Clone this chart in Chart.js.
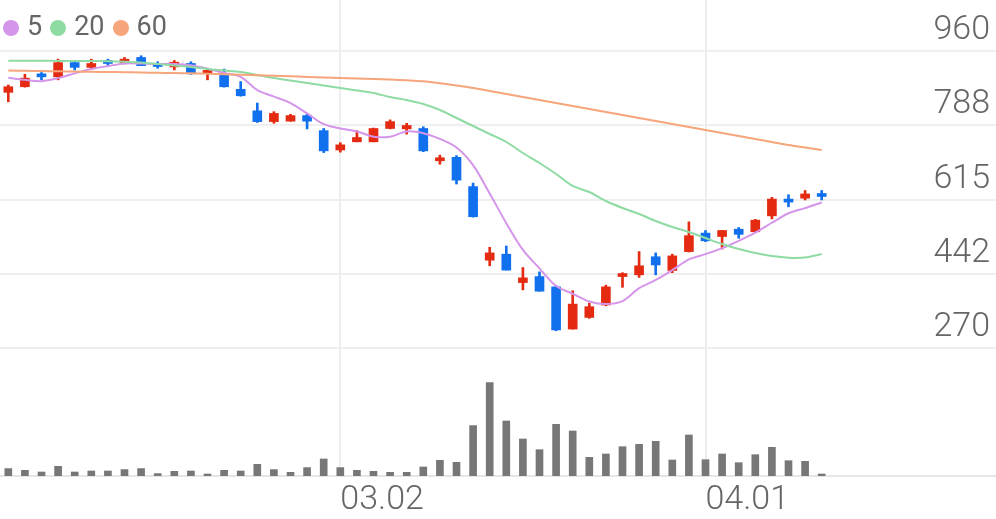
<!DOCTYPE html>
<html>
<head>
<meta charset="utf-8">
<script src="https://cdn.jsdelivr.net/npm/chart.js@4"></script>
<style>
  html, body { margin: 0; padding: 0; background: #fff; }
  #wrap { position: relative; width: 996px; height: 519px; }
  #legend { position: absolute; left: 3px; top: 10px; display: flex; align-items: center;
            font-family: Roboto, sans-serif; font-size: 27px; line-height: 32px; color: #666; }
  #legend .dot { display: inline-block; width: 16px; height: 16px; border-radius: 50%; margin: 3px 8px 0 0; }
  #legend .item { display: flex; align-items: center; margin-right: 8px; }
</style>
</head>
<body>
<div id="wrap">
  <canvas id="grafica"></canvas>
  <div id="legend"></div>
</div>
<script>
// --- DATOS ---
const dates = ['01.28', '01.29', '02.01', '02.02', '02.03', '02.04', '02.05', '02.08', '02.09', '02.10',
  '02.15', '02.16', '02.17', '02.18', '02.19', '02.22', '02.23', '02.24', '02.25', '02.26',
  '03.02', '03.03', '03.04', '03.05', '03.08', '03.09', '03.10', '03.11', '03.12', '03.15',
  '03.16', '03.17', '03.18', '03.19', '03.22', '03.23', '03.24', '03.25', '03.26', '03.29',
  '03.30', '03.31', '04.01', '04.02', '04.05', '04.06', '04.07', '04.08', '04.09', '04.12'];
const emptySlots = 10;
const tickLabels = ['03.02', '04.01'];
const priceTicks = [270, 442, 615, 788, 960];

const opens  = [864, 877, 906, 900, 933, 922, 935, 933, 945, 931, 923, 931, 908, 907, 871, 821, 796, 797, 810, 775,
  730, 749, 749, 780, 779, 780, 705, 713, 645, 474, 488, 422, 436, 412, 314, 341, 370, 436, 440, 482,
  450, 494, 537, 529, 546, 540, 577, 616, 618, 626];
const highs  = [881, 906, 910, 941, 935, 941, 941, 945, 949, 935, 938, 935, 920, 918, 889, 839, 819, 813, 813, 780,
  747, 775, 781, 800, 792, 784, 718, 717, 653, 504, 507, 457, 447, 415, 403, 374, 416, 445, 494, 491,
  488, 563, 543, 543, 550, 569, 620, 626, 636, 636];
const lows   = [842, 876, 893, 893, 916, 918, 925, 930, 926, 920, 916, 906, 893, 876, 855, 794, 792, 797, 779, 724,
  725, 749, 749, 779, 767, 726, 697, 651, 574, 461, 451, 405, 402, 310, 314, 339, 368, 411, 434, 440,
  445, 493, 517, 500, 525, 539, 570, 598, 614, 614];
const closes = [877, 897, 900, 933, 922, 931, 931, 941, 926, 924, 934, 907, 912, 877, 856, 796, 815, 810, 797, 728,
  742, 759, 780, 796, 787, 728, 712, 660, 575, 491, 451, 433, 402, 312, 372, 366, 412, 441, 461, 463,
  484, 531, 519, 543, 534, 567, 616, 609, 628, 622];
const volumes = [74000, 57000, 40000, 97000, 40000, 50000, 50000, 64000, 74000, 24000,
  47000, 50000, 20000, 57000, 50000, 117000, 64000, 37000, 84000, 170000,
  84000, 57000, 47000, 37000, 37000, 90000, 157000, 137000, 504000, 935000,
  550000, 370000, 263000, 517000, 450000, 187000, 220000, 293000, 317000, 347000,
  160000, 410000, 163000, 220000, 133000, 213000, 287000, 153000, 147000, 20000];

const ma5  = [898, 893, 890, 897, 908, 918, 925, 931, 931, 930, 930, 927, 919, 909, 900, 869, 854, 839, 815, 790,
  780, 773, 761, 761, 773, 769, 756, 736, 695, 629, 560, 498, 455, 414, 396, 378, 372, 379, 409, 428,
  451, 476, 488, 502, 519, 538, 561, 583, 595, 608];
const ma20 = [937.5, 937.3, 937.3, 937, 936.8, 936.8, 936.3, 935.2, 933.3, 929.8, 926.3, 922.9, 918.2, 914.7, 911.2,
  904.3, 897.3, 891.5, 885.7, 879.9, 874.1, 868.2, 862.4, 853.2, 846.2, 836.9, 822.9, 804.4, 785.8, 767.2,
  748.6, 723, 699.8, 674.3, 646.4, 632.4, 611.5, 595.3, 581.3, 565.1, 551.1, 539.5, 525.5, 511.6, 500,
  490.7, 483.7, 479.8, 480.3, 488.4];
const ma60 = [914.7, 914, 913.5, 912.9, 912.4, 911.7, 911.2, 910.8, 910.1, 909.4, 908.9, 908.2, 907.3, 906.1, 905,
  903.8, 902.4, 901.2, 899.8, 898.7, 897.3, 896.1, 895, 893.6, 891.9, 889.6, 885, 879.9, 874.1, 867.1,
  860.1, 853.2, 846.2, 839.2, 832.2, 825.3, 818.3, 811.3, 804.4, 797.4, 790.4, 783.4, 776.5, 769.5, 762.5,
  755.6, 748.6, 741.6, 735.8, 730];

// --- ESTILOS ---
const SUBE = '#e42b12';
const BAJA = '#1070ee';
const lineas = [
  { label: '5',  data: ma5,  color: '#d595ea' },
  { label: '20', data: ma20, color: '#8edba3' },
  { label: '60', data: ma60, color: '#f7a57b' }
];
const fuente = { family: 'Roboto', size: 34, weight: 300, lineHeight: 1.09 };

const colorVela = closes.map((c, i) => c >= opens[i] ? SUBE : BAJA);

// leyenda en HTML arriba a la izquierda
document.getElementById('legend').innerHTML = lineas.map(l =>
  `<span class="item"><span class="dot" style="background:${l.color}"></span>${l.label}</span>`).join('');

const datasets = lineas.map((l, i) => ({
  type: 'line',
  label: l.label,
  data: l.data,
  borderColor: l.color,
  borderWidth: 2,
  pointRadius: 0,
  tension: 0.3,
  yAxisID: 'y',
  order: 3 - i
}));

datasets.push({
  label: 'cuerpo',
  data: opens.map((o, i) => [o, closes[i]]),
  backgroundColor: colorVela,
  barThickness: 9,
  minBarLength: 3,
  grouped: false,
  yAxisID: 'y',
  order: 5
});
datasets.push({
  label: 'mecha',
  data: lows.map((l, i) => [l, highs[i]]),
  backgroundColor: colorVela,
  barThickness: 2,
  grouped: false,
  yAxisID: 'y',
  order: 6
});
datasets.push({
  label: 'volumen',
  data: volumes,
  backgroundColor: '#777777',
  barThickness: 7,
  grouped: false,
  yAxisID: 'v',
  order: 7
});

// los ejes de la derecha van dentro del area, sin ocupar espacio
function sinEspacio(s) {
  s.width = 0;
  s.paddingTop = 0;
  s.paddingBottom = 0;
}

new Chart(document.getElementById('grafica'), {
  type: 'bar',
  data: {
    labels: dates.concat(new Array(emptySlots).fill('')),
    datasets: datasets
  },
  options: {
    responsive: true,
    maintainAspectRatio: false,
    animation: false,
    layout: { padding: 0 },
    plugins: { legend: { display: false }, tooltip: { enabled: false } },
    scales: {
      x: {
        offset: true,
        grid: { offset: false, color: '#eeeeee', lineWidth: 2, drawTicks: false },
        border: { color: '#e6e6e6', width: 2 },
        ticks: {
          align: 'start', maxRotation: 0, autoSkip: false, padding: 6,
          color: '#666', font: fuente,
          callback: v => dates[v]
        },
        afterBuildTicks: s => { s.ticks = s.ticks.filter(t => tickLabels.includes(dates[t.value])); },
        afterFit: s => { s.height = 43; s.paddingLeft = 0; s.paddingRight = 0; }
      },
      y: {
        position: 'right',
        stack: 'main',
        stackWeight: 3,
        min: 249.1,
        max: 1078.5,
        grid: { color: '#efefef', lineWidth: 2, drawTicks: false },
        border: { display: false },
        ticks: { mirror: true, padding: -6, labelOffset: -20.5, color: '#666', font: fuente, callback: v => v },
        afterBuildTicks: s => { s.ticks = priceTicks.map(v => ({ value: v })); },
        afterFit: sinEspacio
      },
      v: {
        position: 'right',
        stack: 'main',
        stackWeight: 1,
        min: 0,
        max: 1190000,
        grid: { display: false, drawTicks: false },
        border: { display: false },
        ticks: { display: false },
        afterFit: sinEspacio
      }
    }
  }
});
</script>
</body>
</html>
